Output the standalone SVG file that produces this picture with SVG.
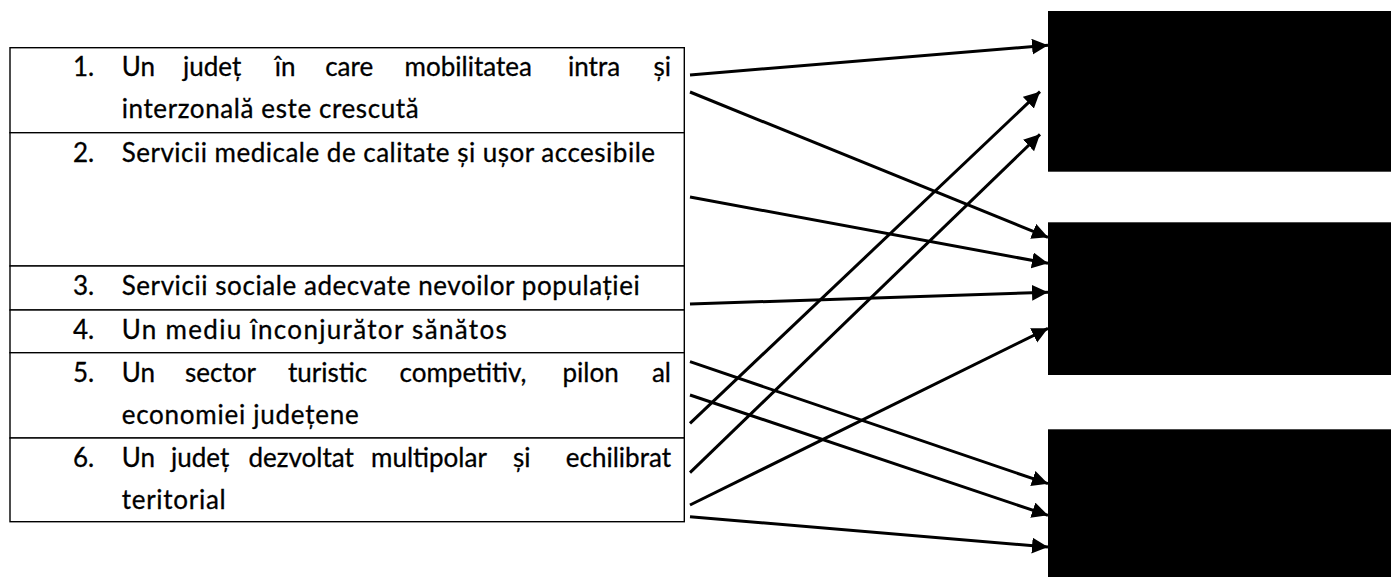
<svg xmlns="http://www.w3.org/2000/svg" width="1391" height="577" viewBox="0 0 1391 577">
<style>
  .cell { fill: #ffffff; stroke: #000000; stroke-width: 1.4; }
  .t { font-family: Lato, "Open Sans", "Liberation Sans", sans-serif; font-size: 26px; fill: #000000; stroke: #000000; stroke-width: 0.3; }
  .e { text-anchor: end; }
  .box { fill: #000000; }
  .conn line { stroke: #000000; stroke-width: 3; fill: none; marker-end: url(#ah); }
</style>
<defs>
  <marker id="ah" markerUnits="userSpaceOnUse" markerWidth="17" markerHeight="17" refX="16" refY="8" orient="auto">
    <path d="M0,0 L16,8 L0,16 Z" fill="#000000"/>
  </marker>
</defs>
<rect width="1391" height="577" fill="#ffffff"/>

<g id="row1">
  <rect class="cell" x="10" y="47.7" width="674.3" height="85"/>
  <text class="t" y="76"><tspan x="73">1.</tspan><tspan x="121.7">Un</tspan><tspan x="183">județ</tspan><tspan x="274.8">în</tspan><tspan x="325.2">care</tspan><tspan x="404.6">mobilitatea</tspan><tspan x="568">intra</tspan><tspan x="671" class="e">și</tspan></text>
  <text class="t" x="121.7" y="118.3" textLength="297" lengthAdjust="spacing">interzonală este crescută</text>
</g>
<g id="row2">
  <rect class="cell" x="10" y="132.7" width="674.3" height="133.3"/>
  <text class="t" x="73" y="161.7">2.</text>
  <text class="t" x="121.7" y="161.7" textLength="533.3" lengthAdjust="spacing">Servicii medicale de calitate și ușor accesibile</text>
</g>
<g id="row3">
  <rect class="cell" x="10" y="266" width="674.3" height="44"/>
  <text class="t" x="73" y="295">3.</text>
  <text class="t" x="121.7" y="295" textLength="518" lengthAdjust="spacing">Servicii sociale adecvate nevoilor populației</text>
</g>
<g id="row4">
  <rect class="cell" x="10" y="310" width="674.3" height="42.7"/>
  <text class="t" x="73" y="339">4.</text>
  <text class="t" x="121.7" y="339" textLength="385" lengthAdjust="spacing">Un mediu înconjurător sănătos</text>
</g>
<g id="row5">
  <rect class="cell" x="10" y="352.7" width="674.3" height="85.3"/>
  <text class="t" y="381.7"><tspan x="73">5.</tspan><tspan x="121.7">Un</tspan><tspan x="185.1">sector</tspan><tspan x="288">turistic</tspan><tspan x="399.5">competitiv,</tspan><tspan x="562.5">pilon</tspan><tspan x="671" class="e">al</tspan></text>
  <text class="t" x="121.7" y="423.7" textLength="237" lengthAdjust="spacing">economiei județene</text>
</g>
<g id="row6">
  <rect class="cell" x="10" y="438" width="674.3" height="83.7"/>
  <text class="t" y="467"><tspan x="73">6.</tspan><tspan x="121.7">Un</tspan><tspan x="171">județ</tspan><tspan x="248.5">dezvoltat</tspan><tspan x="371">multipolar</tspan><tspan x="513">și</tspan><tspan x="671" class="e">echilibrat</tspan></text>
  <text class="t" x="121.7" y="509" textLength="104" lengthAdjust="spacing">teritorial</text>
</g>

<g id="box1"><rect class="box" x="1048" y="11" width="343" height="160.7"/></g>
<g id="box2"><rect class="box" x="1048" y="222.3" width="343" height="152.7"/></g>
<g id="box3"><rect class="box" x="1048" y="429.3" width="343" height="147.7"/></g>

<g id="connectors" class="conn">
  <line x1="690" y1="75" x2="1048" y2="45.3"/>
  <line x1="690" y1="92" x2="1048" y2="237.3"/>
  <line x1="690" y1="197" x2="1048" y2="263.3"/>
  <line x1="690" y1="304" x2="1048" y2="292.3"/>
  <line x1="690" y1="361.7" x2="1048" y2="483.7"/>
  <line x1="690" y1="395" x2="1048" y2="515.3"/>
  <line x1="690" y1="423.3" x2="1040" y2="91.7"/>
  <line x1="690" y1="472.7" x2="1040" y2="134.3"/>
  <line x1="690" y1="505" x2="1048" y2="328.3"/>
  <line x1="690" y1="516.7" x2="1048" y2="547"/>
</g>
</svg>
